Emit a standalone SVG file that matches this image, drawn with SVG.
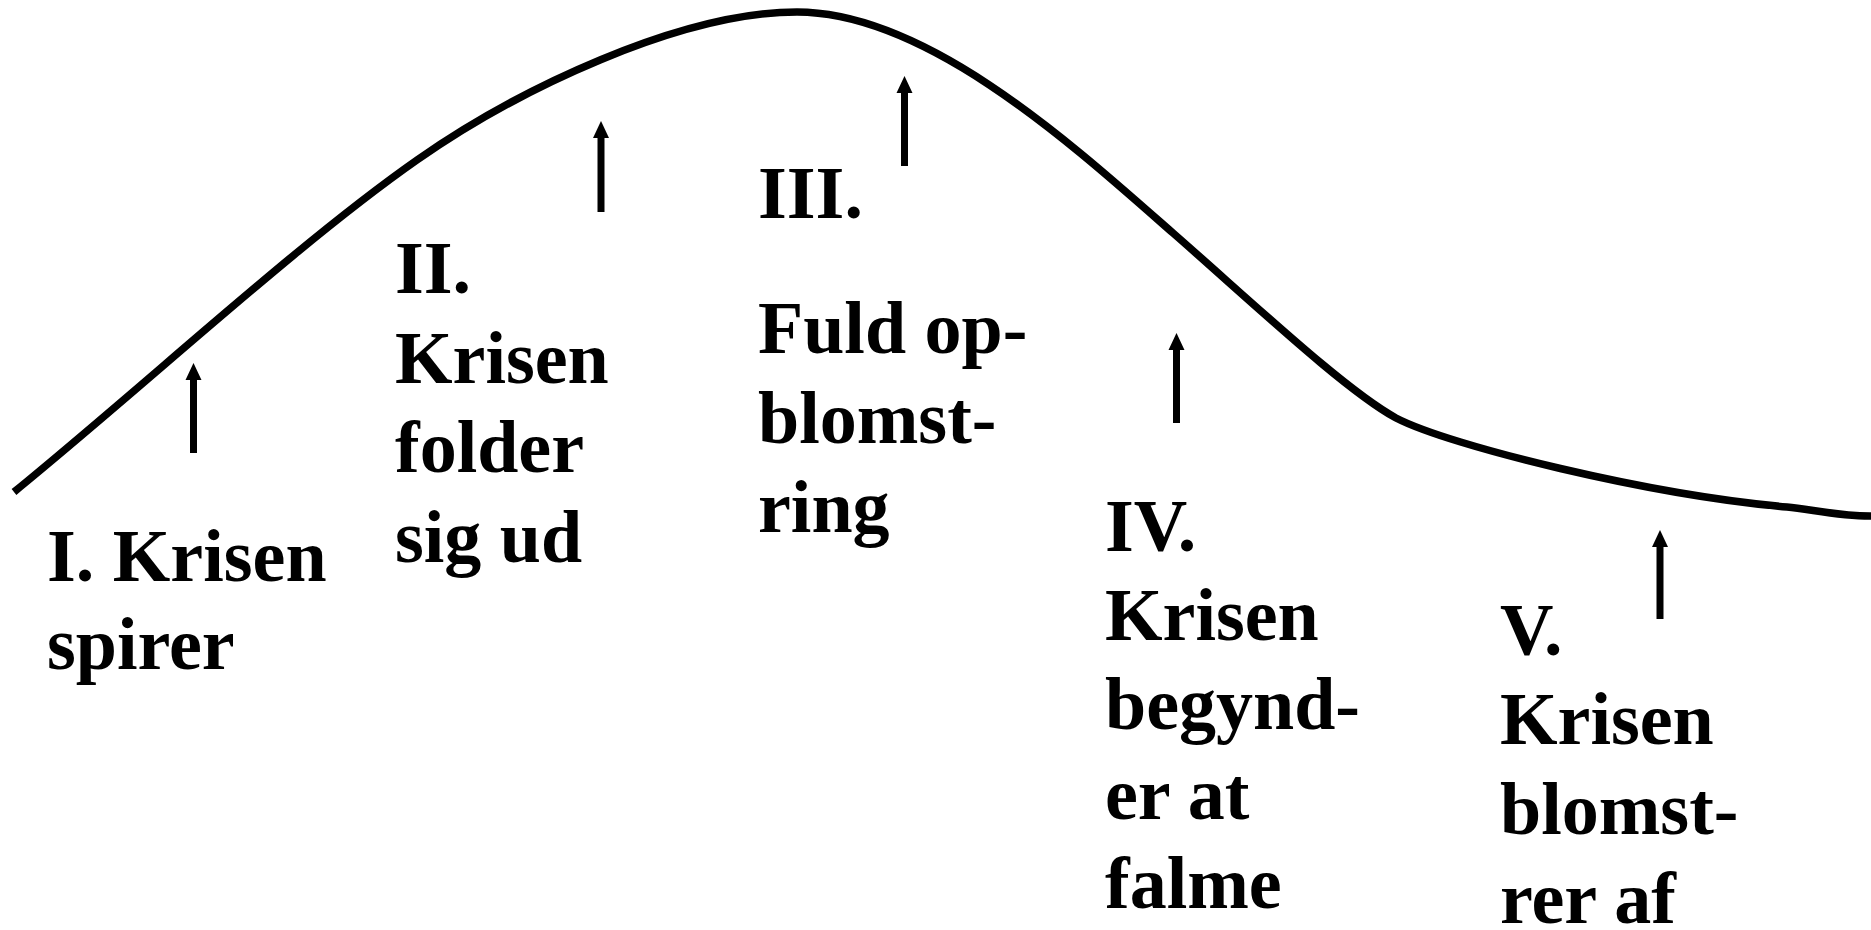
<svg xmlns="http://www.w3.org/2000/svg" width="1871" height="930" viewBox="0 0 1871 930">
  <style>
    .lbl { font-family: "Liberation Serif", "Times New Roman", serif; font-weight: bold; font-size: 74px; fill: #000; }
    .curve { fill: none; stroke: #000; stroke-width: 7.5; stroke-linecap: butt; stroke-linejoin: round; }
    .arrow { stroke: #000; stroke-width: 7; fill: none; marker-end: url(#ah); }
  </style>
  <defs>
    <marker id="ah" markerUnits="userSpaceOnUse" markerWidth="18" markerHeight="17" refX="5" refY="8" orient="auto" overflow="visible">
      <path d="M0,0 L17,8 L0,16 Z" fill="#000"/>
    </marker>
  </defs>
  <rect width="1871" height="930" fill="#fff"/>

  <g id="curve">
    <path class="curve" d="M14,492 C150,381 297,244 417,160 C517,90 680,12 797,12 C927,12 1073,145 1173,233 C1253,303 1345,390 1396,418 C1450,446 1650,495 1787,507 C1810,509 1840,516.5 1872,516"/>
  </g>

  <g id="connectors">
    <line class="arrow" x1="193.5" y1="453" x2="193.5" y2="375"/>
    <line class="arrow" x1="601" y1="212" x2="601" y2="133"/>
    <line class="arrow" x1="904.5" y1="166" x2="904.5" y2="88"/>
    <line class="arrow" x1="1176.5" y1="423" x2="1176.5" y2="345"/>
    <line class="arrow" x1="1660" y1="619" x2="1660" y2="542"/>
  </g>

  <g id="stage1">
    <text class="lbl" x="47" y="581">I. Krisen</text>
    <text class="lbl" x="47" y="669">spirer</text>
  </g>
  <g id="stage2">
    <text class="lbl" x="395" y="293">II.</text>
    <text class="lbl" x="395" y="383">Krisen</text>
    <text class="lbl" x="395" y="472">folder</text>
    <text class="lbl" x="395" y="562">sig ud</text>
  </g>
  <g id="stage3">
    <text class="lbl" x="758" y="218">III.</text>
    <text class="lbl" x="758" y="353">Fuld op-</text>
    <text class="lbl" x="758" y="443">blomst-</text>
    <text class="lbl" x="758" y="532">ring</text>
  </g>
  <g id="stage4">
    <text class="lbl" x="1105" y="551">IV.</text>
    <text class="lbl" x="1105" y="640">Krisen</text>
    <text class="lbl" x="1105" y="729">begynd-</text>
    <text class="lbl" x="1105" y="819">er at</text>
    <text class="lbl" x="1105" y="908">falme</text>
  </g>
  <g id="stage5">
    <text class="lbl" x="1500" y="655">V.</text>
    <text class="lbl" x="1500" y="744">Krisen</text>
    <text class="lbl" x="1500" y="834">blomst-</text>
    <text class="lbl" x="1500" y="923">rer af</text>
  </g>
</svg>
